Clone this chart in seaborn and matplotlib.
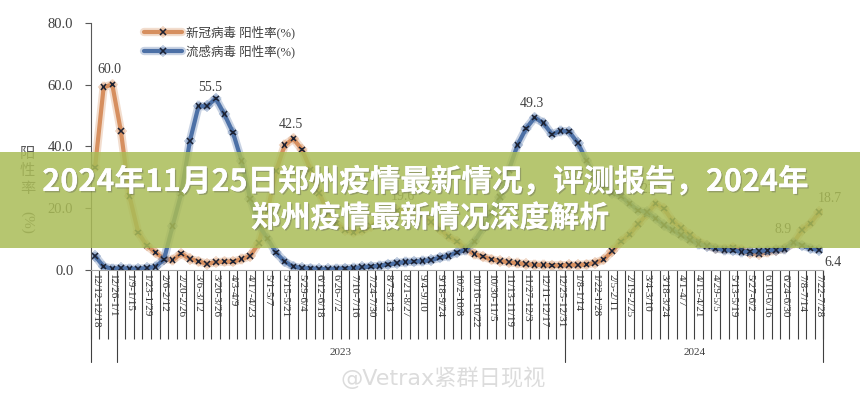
import numpy as np
import pandas as pd
import matplotlib
matplotlib.use("Agg")
import matplotlib.pyplot as plt
import matplotlib.patheffects as pe
import matplotlib.transforms as mtransforms
from matplotlib.patches import Rectangle
import seaborn as sns

# Weekly positivity rates (%), week of 12/12-12/18 2022 through 7/22-7/28 2024
covid = [33.2, 59.2, 60.0, 44.9, 23.9, 12.2, 7.9, 5.7, 3.6, 3.2,
         5.3, 3.6, 2.8, 2.0, 2.5, 2.7, 2.7, 3.5, 4.5, 8.8,
         19.0, 32.0, 40.4, 42.5, 39.0, 32.5, 25.0, 18.5, 15.0, 13.0,
         12.2, 12.8, 14.2, 16.0, 17.8, 19.2, 19.6, 19.0, 17.6, 15.6,
         13.2, 10.8, 9.2, 6.8, 5.2, 4.3, 3.4, 2.9, 2.5, 2.2,
         1.9, 1.7, 1.6, 1.5, 1.5, 1.6, 1.6, 1.8, 2.3, 3.4,
         6.1, 9.2, 11.5, 14.8, 18.0, 21.5, 19.9, 15.8, 13.6, 11.3,
         9.2, 8.0, 7.0, 6.8, 7.3, 6.6, 5.5, 5.2, 5.8, 6.3,
         7.0, 8.7, 12.9, 15.1, 18.7]
flu = [4.5, 1.1, 0.4, 0.6, 0.4, 0.4, 0.6, 1.0, 3.4, 14.3,
       24.8, 41.7, 53.0, 53.0, 55.5, 50.4, 44.5, 35.3, 23.0, 14.5,
       10.2, 5.6, 2.7, 1.1, 0.6, 0.5, 0.3, 0.3, 0.4, 0.5,
       0.6, 0.9, 1.1, 1.3, 1.8, 2.2, 2.6, 2.7, 2.9, 3.2,
       4.0, 4.6, 5.7, 6.5, 9.2, 13.5, 18.4, 23.7, 32.3, 40.4,
       45.8, 49.3, 47.6, 43.9, 45.0, 44.8, 41.1, 35.5, 30.0, 26.5,
       25.0, 23.8, 21.5, 19.3, 18.8, 16.7, 14.5, 12.9, 11.3, 9.7,
       8.4, 7.8, 7.0, 6.5, 6.3, 5.9, 6.0, 6.2, 6.3, 6.5,
       6.8, 8.9, 8.0, 7.0, 6.4]

series_names = ["新冠病毒 阳性率(%)", "流感病毒 阳性率(%)"]

# every second week is labelled
tick_labels = ["12/12-12/18", "12/26-1/1", "1/9-1/15", "1/23-1/29", "2/6-2/12",
               "2/20-2/26", "3/6-3/12", "3/20-3/26", "4/3-4/9", "4/17-4/23",
               "5/1-5/7", "5/15-5/21", "5/29-6/4", "6/12-6/18", "6/26-7/2",
               "7/10-7/16", "7/24-7/30", "8/7-8/13", "8/21-8/27", "9/4-9/10",
               "9/18-9/24", "10/2-10/8", "10/16-10/22", "10/30-11/5", "11/13-11/19",
               "11/27-12/3", "12/11-12/17", "12/25-12/31", "1/8-1/14", "1/22-1/28",
               "2/5-2/11", "2/19-2/25", "3/4-3/10", "3/18-3/24", "4/1-4/7",
               "4/15-4/21", "4/29-5/5", "5/13-5/19", "5/27-6/2", "6/10-6/16",
               "6/24-6/30", "7/8-7/14", "7/22-7/28"]

year_labels = ["2022", "2023", "2024"]
year_weeks = [3, 52, 30]

# (series index, week index) of the value labels
callout_points = [(0, 2), (1, 14), (0, 23), (1, 51), (0, 36), (0, 65), (1, 81), (0, 84), (1, 84)]

title_lines = ["2024年11月25日郑州疫情最新情况，评测报告，2024年", "郑州疫情最新情况深度解析"]

weeks = np.arange(len(covid))
df = pd.DataFrame({
    "week": np.tile(weeks, 2),
    "rate": covid + flu,
    "series": np.repeat(series_names, len(weeks)),
})

sns.set_theme(style="white")
plt.rcParams["font.family"] = ["Liberation Serif", "Noto Sans CJK SC", "DejaVu Sans"]

COLORS = {series_names[0]: "#d68f5f", series_names[1]: "#4c70a6"}
TXT = "#404040"

fig = plt.figure(figsize=(8.6, 4), dpi=100)
ax = fig.add_axes([0.1055, 0.325, 0.852, 0.618])

sns.lineplot(data=df, x="week", y="rate", hue="series", hue_order=series_names,
             palette=COLORS, marker="x", markersize=4, markeredgewidth=1.1,
             markeredgecolor="#1c2233", linewidth=3, legend=False, ax=ax)
for line, c in zip(ax.lines, COLORS.values()):
    line.set_path_effects([pe.Stroke(linewidth=6, foreground=c, alpha=0.3), pe.Normal()])

ax.legend(handles=list(ax.lines[:2]), labels=series_names, loc="upper left",
          bbox_to_anchor=(0.058, 1.035), frameon=False, fontsize=9, handlelength=3.0,
          handletextpad=0.3, labelspacing=0.45, labelcolor=TXT)

# value labels
offsets = [(-2, 11), (-4, 8), (-2, 10), (-2, 10), (-2, 9), (-2, 10), (-7, 9), (8, 10), (10, -9)]
series_vals = [covid, flu]
for (s, w), off in zip(callout_points, offsets):
    v = series_vals[s][w]
    ax.annotate(f"{v:.1f}", (w, v), xytext=off, textcoords="offset points",
                ha="center", va="center", fontsize=10, color=TXT, annotation_clip=False)

ax.set_xlim(-0.5, len(weeks) - 0.5)
ax.set_ylim(0, 80)
ax.set_yticks([0, 20, 40, 60, 80])
ax.set_yticklabels([f"{v:.1f}" for v in [0, 20, 40, 60, 80]])
ax.set_xticks(weeks[::2])
ax.set_xticklabels(tick_labels, rotation=270, fontsize=8, color="#333333")
ax.set_xticks(np.arange(-0.5, len(weeks)), minor=True)
ax.tick_params(axis="x", which="major", bottom=True, length=0, pad=3)
ax.tick_params(axis="x", which="minor", bottom=True, length=50, width=0.8,
               color="#404040", direction="out")
ax.tick_params(axis="y", left=True, length=4.5, width=0.8, color="#595959",
               direction="out", pad=8, labelsize=10.5, labelcolor=TXT)
ax.set_xlabel("")
ax.set_ylabel("")
for s in ["top", "right"]:
    ax.spines[s].set_visible(False)
ax.spines["left"].set_color("#595959")
ax.spines["left"].set_linewidth(0.8)
ax.spines["bottom"].set_color("#a6a6a6")
ax.spines["bottom"].set_linewidth(0.8)

# second level of the category axis: years
trans = mtransforms.blended_transform_factory(ax.transData, ax.transAxes)
bounds = np.concatenate([[0], np.cumsum(year_weeks)]) - 0.5
for b in bounds:
    ax.plot([b, b], [0, -0.372], transform=trans, color="#404040", lw=0.8, clip_on=False)
for lab, lo, hi in zip(year_labels, bounds[:-1], bounds[1:]):
    if hi - lo > 10:
        ax.text((lo + hi) / 2, -0.335, lab, transform=trans, ha="center", va="center",
                fontsize=8, color=TXT)
ax.set_xlim(-0.5, len(weeks) - 0.5)
ax.set_ylim(0, 80)

# y axis title, stacked characters
fig.text(0.032, 0.573, "阳\n性\n率", ha="center", va="center", fontsize=11,
         color="#595959", family=["Noto Sans CJK SC"], linespacing=1.05)
fig.text(0.032, 0.443, "(%)", ha="center", va="center", fontsize=11, rotation=270,
         color="#595959")

# banner
fig.add_artist(Rectangle((0, 0.38), 1, 0.24, transform=fig.transFigure,
                         facecolor="#aabc57", edgecolor="none", alpha=0.85, zorder=5))
shadow = [pe.withSimplePatchShadow(offset=(1, -1), shadow_rgbFace="#555555", alpha=0.35),
          pe.Normal()]
fig.text(0.494, 0.545, title_lines[0], ha="center", va="center", fontsize=22,
         fontweight="bold", color="white", family=["Noto Sans CJK SC"], zorder=6,
         path_effects=shadow)
fig.text(0.5, 0.455, title_lines[1], ha="center", va="center", fontsize=21.5,
         fontweight="bold", color="white", family=["Noto Sans CJK SC"], zorder=6,
         path_effects=shadow)

# watermark
fig.text(0.515, 0.055, "@Vetrax紧群日现视", ha="center", va="center", fontsize=16,
         color="#dcdcdc", family=["DejaVu Sans", "Noto Sans CJK SC"], zorder=6)

fig.savefig("out.png", dpi=100)
